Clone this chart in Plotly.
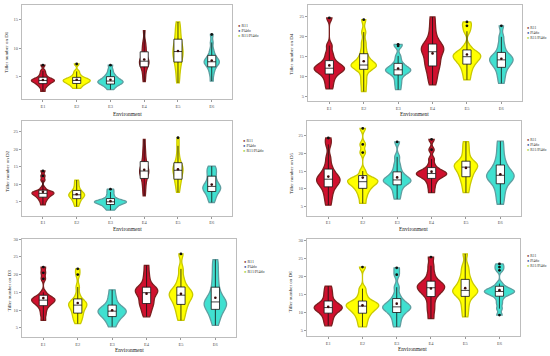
import numpy as np
import plotly.graph_objects as go

ENVS = ["E1", "E2", "E3", "E4", "E5", "E6"]
GENOTYPES = ["R11", "Pl4do", "R11/Pl4do"]
Y_TITLES = ["Tiller number on D1", "Tiller number on D2", "Tiller number on D3",
            "Tiller number on D4", "Tiller number on D5", "Tiller number on D6"]

D1 = [[2.4, 3.0, 3.4, 3.6, 3.8, 4.0, 4.1, 4.2, 4.3, 4.4, 4.5, 4.6, 4.8, 5.1, 5.5, 6.0, 7.0],
      [2.9, 3.2, 3.5, 3.7, 3.8, 4.0, 4.1, 4.2, 4.3, 4.4, 4.5, 4.6, 4.8, 5.0, 5.4, 5.9, 7.2],
      [2.7, 3.1, 3.4, 3.6, 3.7, 3.9, 4.0, 4.1, 4.2, 4.3, 4.5, 4.7, 4.9, 5.2, 5.6, 6.2, 7.0],
      [4.1, 5.0, 5.8, 6.4, 6.8, 7.1, 7.3, 7.5, 7.7, 7.9, 8.2, 8.6, 9.2, 9.8, 10.4, 11.2, 13.1],
      [3.9, 5.2, 6.3, 7.1, 7.7, 8.3, 8.7, 9.1, 9.4, 9.8, 10.3, 10.8, 11.4, 12.1, 12.9, 13.8, 14.6],
      [4.2, 5.2, 5.9, 6.4, 6.8, 7.1, 7.3, 7.5, 7.6, 7.8, 8.0, 8.3, 8.6, 9.1, 9.8, 11.0, 12.4]]
D2 = [[4.1, 5.0, 5.6, 6.1, 6.4, 6.8, 7.0, 7.2, 7.4, 7.6, 7.8, 7.9, 8.1, 9.0, 11.2, 12.4, 13.8],
      [3.7, 4.5, 5.1, 5.6, 6.0, 6.3, 6.6, 6.8, 7.0, 7.2, 7.5, 7.8, 8.1, 8.7, 9.4, 10.3, 11.2],
      [2.6, 3.2, 3.6, 4.0, 4.3, 4.5, 4.7, 4.9, 5.0, 5.1, 5.3, 5.5, 5.8, 6.3, 7.0, 7.8, 8.6],
      [6.7, 8.4, 9.8, 11.0, 11.9, 12.6, 13.1, 13.5, 13.8, 14.2, 14.8, 15.4, 16.2, 17.4, 18.8, 20.5, 22.8],
      [7.7, 9.0, 10.2, 11.0, 11.6, 12.4, 13.0, 13.6, 14.0, 14.4, 14.9, 15.4, 15.9, 17.0, 18.6, 21.0, 23.3],
      [4.8, 5.8, 6.7, 7.5, 8.1, 8.5, 8.8, 9.1, 9.4, 9.8, 10.4, 11.2, 12.1, 13.0, 13.8, 14.5, 15.2]]
D3 = [[7.1, 8.6, 9.8, 10.8, 11.4, 11.9, 12.2, 12.5, 12.8, 13.0, 13.3, 13.6, 13.9, 15.0, 18.8, 20.5, 22.1],
      [6.2, 7.2, 8.0, 8.7, 9.3, 10.0, 10.6, 11.0, 11.4, 11.7, 12.0, 12.4, 12.8, 14.2, 16.5, 20.0, 21.6],
      [5.3, 6.4, 7.2, 7.8, 8.3, 8.7, 9.1, 9.4, 9.7, 10.0, 10.4, 10.8, 11.2, 12.0, 13.0, 14.2, 15.7],
      [8.1, 9.4, 10.5, 11.4, 12.0, 12.7, 13.5, 14.3, 14.9, 15.3, 15.6, 15.9, 16.2, 17.2, 18.6, 20.4, 22.6],
      [7.1, 8.7, 9.9, 11.0, 11.8, 12.6, 13.3, 13.8, 14.2, 14.6, 15.1, 15.6, 16.2, 17.4, 19.0, 21.6, 25.8],
      [5.7, 7.4, 8.6, 9.6, 10.4, 11.0, 11.5, 11.9, 12.3, 12.8, 13.5, 14.6, 16.0, 17.8, 19.8, 22.0, 24.2]]
D4 = [[6.9, 8.2, 9.3, 10.2, 10.8, 11.3, 11.6, 11.9, 12.1, 12.4, 12.7, 13.2, 13.75, 14.8, 16.0, 17.8, 24.75],
      [6.25, 8.0, 9.5, 11.0, 12.1, 12.4, 12.6, 12.8, 12.9, 13.3, 13.8, 14.5, 15.4, 16.8, 18.6, 21.2, 24.3],
      [6.7, 7.9, 8.9, 9.9, 10.6, 11.0, 11.3, 11.5, 11.7, 11.9, 12.2, 12.6, 13.1, 14.0, 15.2, 17.7, 18.1],
      [7.9, 9.5, 10.8, 12.0, 12.9, 13.6, 14.4, 15.4, 16.25, 16.7, 17.1, 17.5, 17.9, 19.0, 20.5, 22.6, 25.0],
      [9.2, 10.6, 11.7, 12.6, 13.3, 13.8, 14.3, 14.7, 15.0, 15.3, 15.7, 16.0, 16.4, 17.6, 21.4, 22.75, 23.75],
      [8.3, 9.7, 10.8, 11.8, 12.5, 13.0, 13.5, 13.9, 14.2, 14.5, 14.9, 15.3, 15.8, 16.9, 18.2, 20.0, 22.75]]
D5 = [[5.4, 7.2, 8.6, 9.8, 10.8, 11.4, 11.9, 12.3, 12.7, 13.1, 13.6, 14.3, 15.2, 16.6, 18.8, 22.5, 24.3],
      [5.9, 7.5, 8.7, 9.6, 10.3, 10.9, 11.3, 11.7, 12.0, 12.3, 12.6, 12.9, 13.3, 15.0, 20.2, 22.5, 27.0],
      [7.1, 8.5, 9.6, 10.6, 11.3, 11.7, 12.0, 12.3, 12.5, 12.8, 13.2, 13.8, 14.5, 15.6, 17.0, 19.0, 23.2],
      [8.9, 10.3, 11.5, 12.4, 13.1, 13.5, 13.8, 14.1, 14.3, 14.5, 14.8, 15.2, 15.7, 16.8, 18.4, 21.0, 23.9],
      [8.9, 10.5, 11.8, 12.8, 13.6, 14.4, 15.0, 15.6, 16.1, 16.5, 16.8, 17.1, 17.5, 18.6, 20.0, 21.6, 23.3],
      [5.65, 7.6, 9.2, 10.6, 11.7, 12.4, 12.9, 13.4, 13.8, 14.2, 14.7, 15.5, 16.4, 17.6, 19.2, 21.2, 23.4]]
D6 = [[6.2, 7.4, 8.4, 9.3, 9.9, 10.4, 10.8, 11.1, 11.3, 11.6, 11.9, 12.4, 12.9, 13.8, 14.9, 16.0, 17.3],
      [5.9, 7.2, 8.3, 9.2, 9.9, 10.5, 10.9, 11.3, 11.7, 12.0, 12.3, 12.6, 12.9, 13.8, 15.0, 16.6, 22.6],
      [5.9, 7.3, 8.5, 9.4, 10.1, 10.6, 11.0, 11.3, 11.5, 11.8, 12.3, 12.8, 13.5, 14.8, 17.0, 20.5, 22.4],
      [8.2, 10.2, 11.8, 13.4, 14.7, 15.4, 15.9, 16.4, 16.85, 17.2, 17.6, 18.0, 18.4, 19.5, 21.0, 23.0, 25.4],
      [8.7, 10.6, 12.2, 13.6, 14.7, 15.2, 15.6, 15.9, 16.1, 16.6, 17.3, 18.1, 18.9, 20.0, 21.5, 23.0, 26.3],
      [9.2, 11.0, 12.5, 13.8, 14.7, 15.1, 15.4, 15.6, 15.8, 16.0, 16.3, 16.6, 17.0, 18.0, 21.7, 22.6, 23.5]]
DATASETS = [D1, D2, D3, D4, D5, D6]

# ---- styling ----
W, H = 550, 356
FILL = ["#D0102E", "#FFFF00", "#40E0D0", "#D0102E", "#FFFF00", "#40E0D0"]
EDGE = ["#7A1F1F", "#C9C900", "#5F9EA0", "#7A1F1F", "#C9C900", "#5F9EA0"]
LEG_COL = ["#7A1F1F", "#2B3F8F", "#9ACD32"]
VWIDTH = [[0.68, 0.8, 0.75, 0.28, 0.3, 0.45],
          [0.65, 0.47, 0.95, 0.27, 0.3, 0.53],
          [0.68, 0.53, 0.82, 0.65, 0.68, 0.65],
          [0.88, 0.73, 0.73, 0.65, 0.8, 0.68],
          [0.68, 0.88, 0.8, 0.88, 0.68, 0.8],
          [0.82, 0.95, 0.82, 0.8, 0.73, 0.88]]
BW_FACTOR = 0.6  # narrower kernel than the default Silverman rule
BOXES = [(22, 3, 232, 98), (22, 120, 232, 215), (22, 238, 236, 337),
         (308, 3, 522, 100), (307, 120, 521, 215), (307, 238, 520, 336)]
YRANGES = [[0.96, 17.6], [1.0, 28.0], [2.4, 30.1], [3.75, 28.0], [2.4, 29.0], [3.33, 30.55]]
YTITLE_POS = [(7, 50), (7, 170), (9, 290), (292, 52), (291, 172), (290, 291)]
XTITLE_POS = [(127, 113), (127, 228), (129, 350), (414, 113), (413, 228), (412, 349)]
LEGEND_POS = [(236, 19.5), (241, 134.5), (242, 256.5), (525, 22.5), (525, 135.0), (525, 251.0)]
LEGEND_SIZE = [4, 4, 4, 3.8, 3.8, 3.8]
SERIF = "Liberation Serif"


def kernel_bw(v):
    a = np.asarray(v, dtype=float)
    q1, q3 = np.percentile(a, [25, 75])
    s = min(a.std(ddof=1), (q3 - q1) / 1.349)
    return BW_FACTOR * 1.059 * s * len(a) ** -0.2


fig = go.Figure()
layout = dict(width=W, height=H, margin=dict(l=0, r=0, t=0, b=0),
              paper_bgcolor="white", plot_bgcolor="white", showlegend=False,
              violinmode="overlay", boxmode="overlay", annotations=[])

for p, data in enumerate(DATASETS):
    k = p + 1
    xa = "x" if k == 1 else f"x{k}"
    ya = "y" if k == 1 else f"y{k}"
    for i, env in enumerate(ENVS):
        vals = data[i]
        fig.add_trace(go.Violin(
            x=[env] * len(vals), y=vals, xaxis=xa, yaxis=ya,
            width=VWIDTH[p][i], spanmode="hard", points=False, scalemode="width",
            bandwidth=kernel_bw(vals),
            fillcolor=FILL[i], line=dict(color=EDGE[i], width=1.3), opacity=1,
            box_visible=False, meanline_visible=False, hoverinfo="skip"))
        fig.add_trace(go.Box(
            x=[env] * len(vals), y=vals, xaxis=xa, yaxis=ya, width=0.24,
            fillcolor="white", line=dict(color="#111111", width=0.8),
            whiskerwidth=0, boxpoints="outliers",
            marker=dict(color="#111111", size=2.8), hoverinfo="skip"))
    means = [float(np.mean(v)) for v in data]
    fig.add_trace(go.Scatter(x=ENVS, y=means, xaxis=xa, yaxis=ya, mode="markers",
                             marker=dict(color="#3A0A0A", size=2.6), hoverinfo="skip"))

    l, t, r, b = BOXES[p]
    axis_common = dict(showline=True, mirror=True, linecolor="#BDBDBD", linewidth=1,
                       ticks="outside", ticklen=2, tickwidth=0.5, tickcolor="#9A9A9A",
                       showgrid=False, zeroline=False,
                       tickfont=dict(family=SERIF, size=4.5, color="#555555"))
    layout["xaxis" if k == 1 else f"xaxis{k}"] = dict(
        axis_common, domain=[l / W, r / W], anchor=ya, type="category",
        categoryorder="array", categoryarray=ENVS, range=[-0.62, 5.6])
    layout["yaxis" if k == 1 else f"yaxis{k}"] = dict(
        axis_common, domain=[1 - b / H, 1 - t / H], anchor=xa,
        range=YRANGES[p], dtick=5, tick0=0)

    tx, ty = YTITLE_POS[p]
    layout["annotations"].append(dict(
        text=Y_TITLES[p], x=tx / W, y=1 - ty / H, xref="paper", yref="paper",
        textangle=-90, showarrow=False, xanchor="center", yanchor="middle",
        font=dict(family=SERIF, size=5, color="#222222")))
    ex, ey = XTITLE_POS[p]
    layout["annotations"].append(dict(
        text="Environment", x=ex / W, y=1 - ey / H, xref="paper", yref="paper",
        showarrow=False, xanchor="center", yanchor="middle",
        font=dict(family=SERIF, size=5.5, color="#222222")))
    lx, ly = LEGEND_POS[p]
    leg_text = "<br>".join(
        f'<span style="color:{c}">●</span> {g}' for g, c in zip(GENOTYPES, LEG_COL))
    layout["annotations"].append(dict(
        text=leg_text, x=lx / W, y=1 - ly / H, xref="paper", yref="paper",
        showarrow=False, xanchor="left", yanchor="top", align="left",
        font=dict(family=SERIF, size=LEGEND_SIZE[p], color="#333333")))

fig.update_layout(**layout)
fig.write_html("out.html", config={"displayModeBar": False},
               post_script="document.body.style.margin='0px';document.body.style.padding='0px';")
